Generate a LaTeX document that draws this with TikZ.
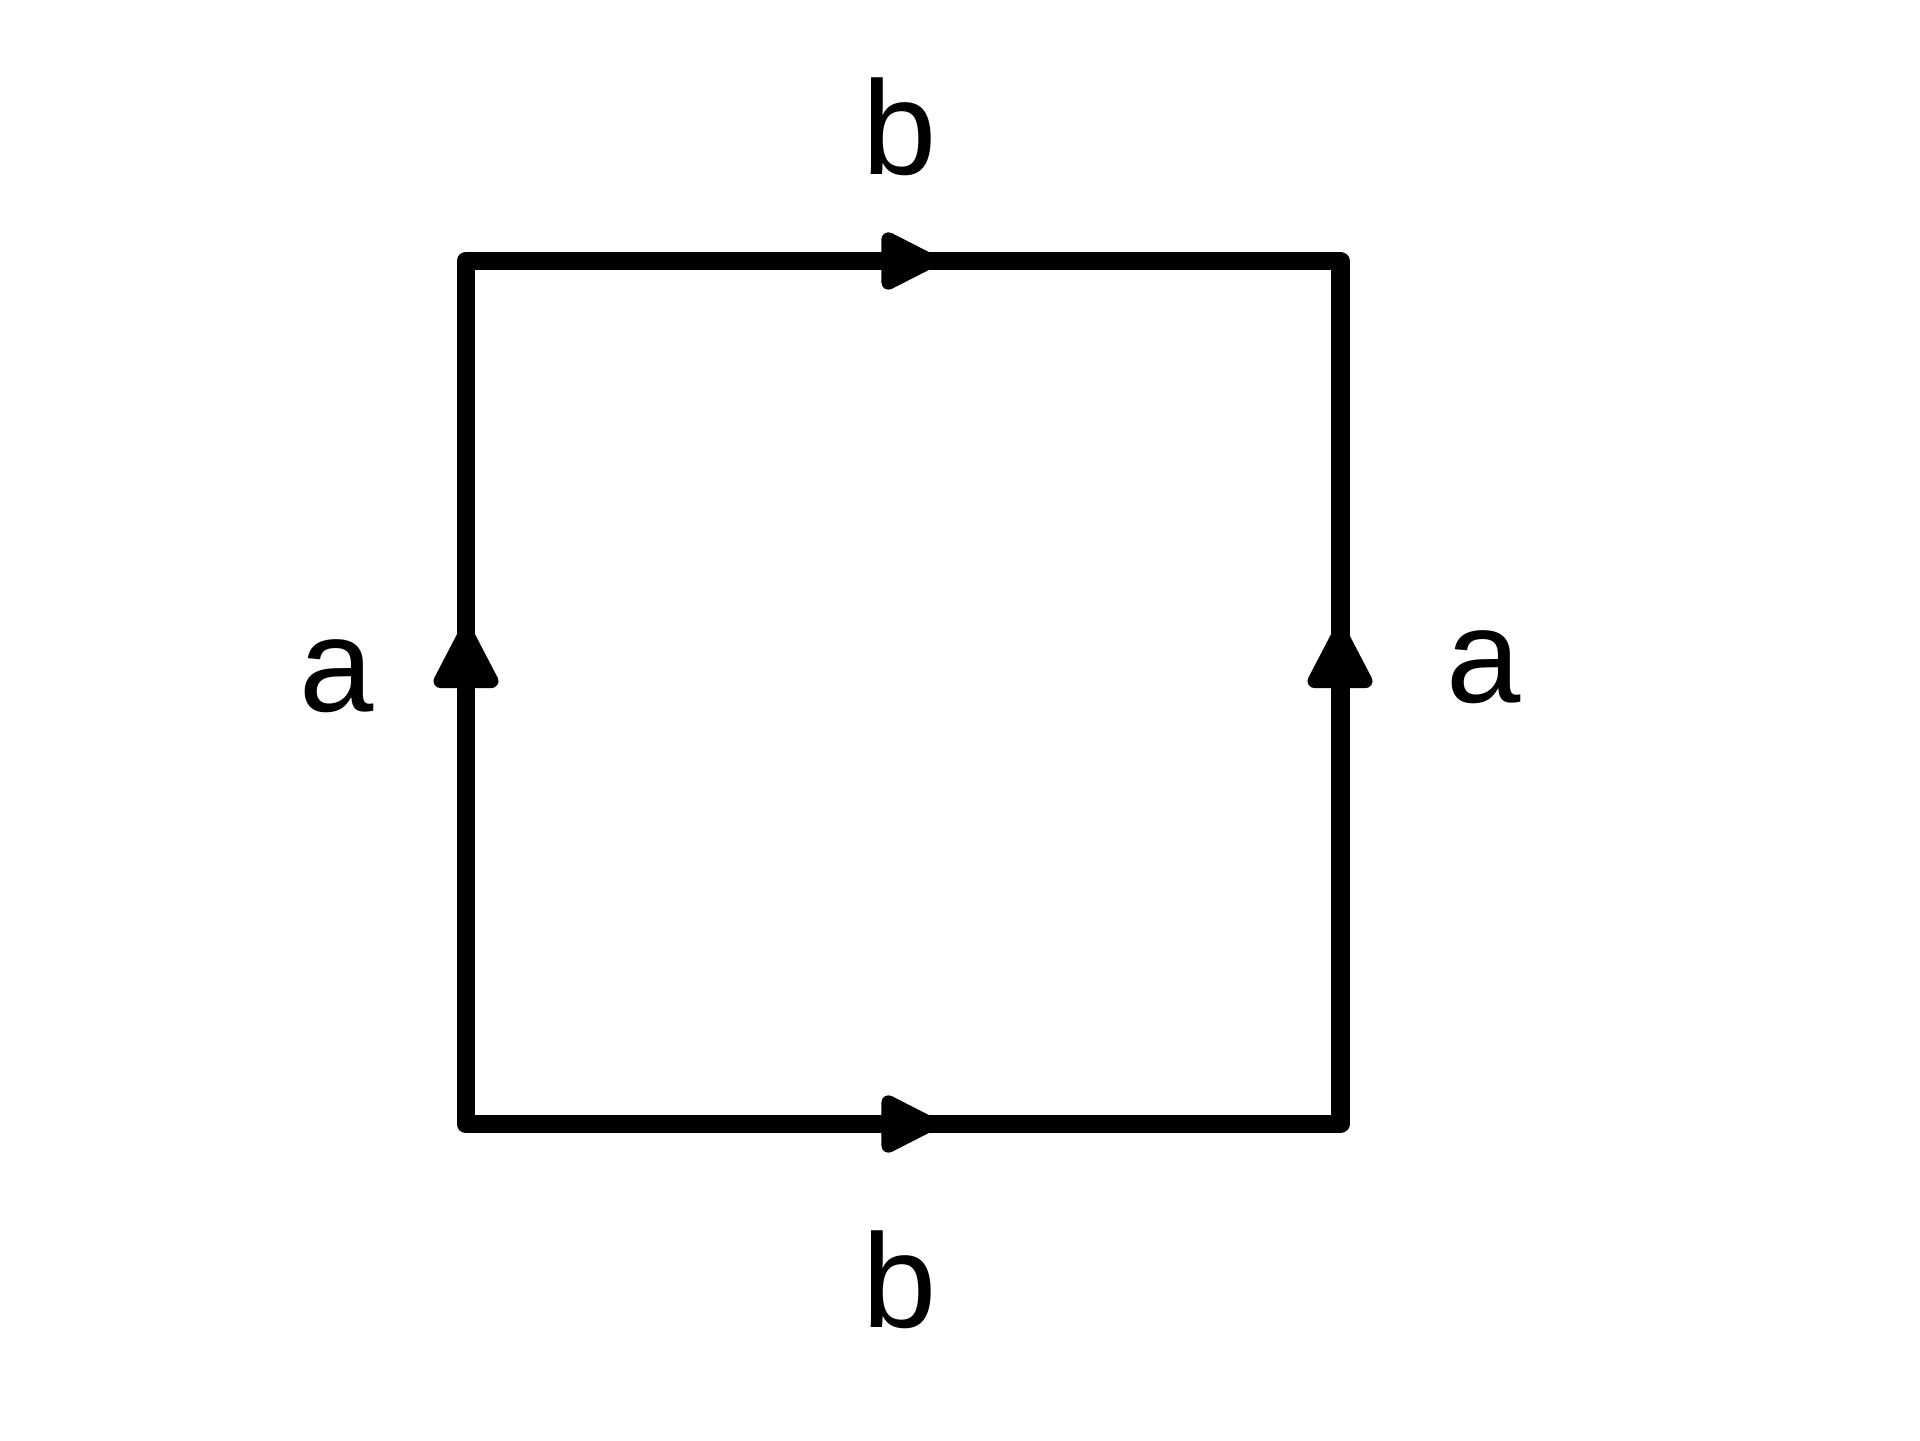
\documentclass[tikz,border=0pt]{standalone}
\usepackage{fontspec}
\setmainfont{Liberation Sans}
\usepackage{tikz}
\usetikzlibrary{arrows.meta, decorations.markings}

\begin{document}
\begin{tikzpicture}[line width=5.4pt, line join=round, line cap=round,
    hmid/.style={postaction={decorate}, decoration={markings,
        mark=at position 0.54 with {\arrow{Triangle[length=0.66cm, width=0.62cm, line width=4pt, round]}}}},
    vmid/.style={postaction={decorate}, decoration={markings,
        mark=at position 0.578 with {\arrow{Triangle[length=0.72cm, width=0.7cm, line width=4pt, round]}}}},
    lbl/.style={font=\fontsize{38}{44}\selectfont}]
    \useasboundingbox (0, 0) rectangle (19.2, 14.4);
    \coordinate (c00) at (4.66, 3.16);
    \coordinate (c10) at (13.40, 3.16);
    \coordinate (c11) at (13.40, 11.79);
    \coordinate (c01) at (4.66, 11.79);
    \draw (c00) -- (c10) -- (c11) -- (c01) -- cycle;
    \path [hmid] (c00) -- (c10);
    \path [hmid] (c01) -- (c11);
    \path [vmid] (c00) -- (c01);
    \path [vmid] (c10) -- (c11);
    \node [lbl] (btop) at (9.00, 13.13) {b};
    \node [lbl] (bbot) at (9.00, 1.60) {b};
    \node [lbl] (aleft) at (3.37, 7.64) {a};
    \node [lbl] (aright) at (14.84, 7.73) {a};
\end{tikzpicture}
\end{document}
